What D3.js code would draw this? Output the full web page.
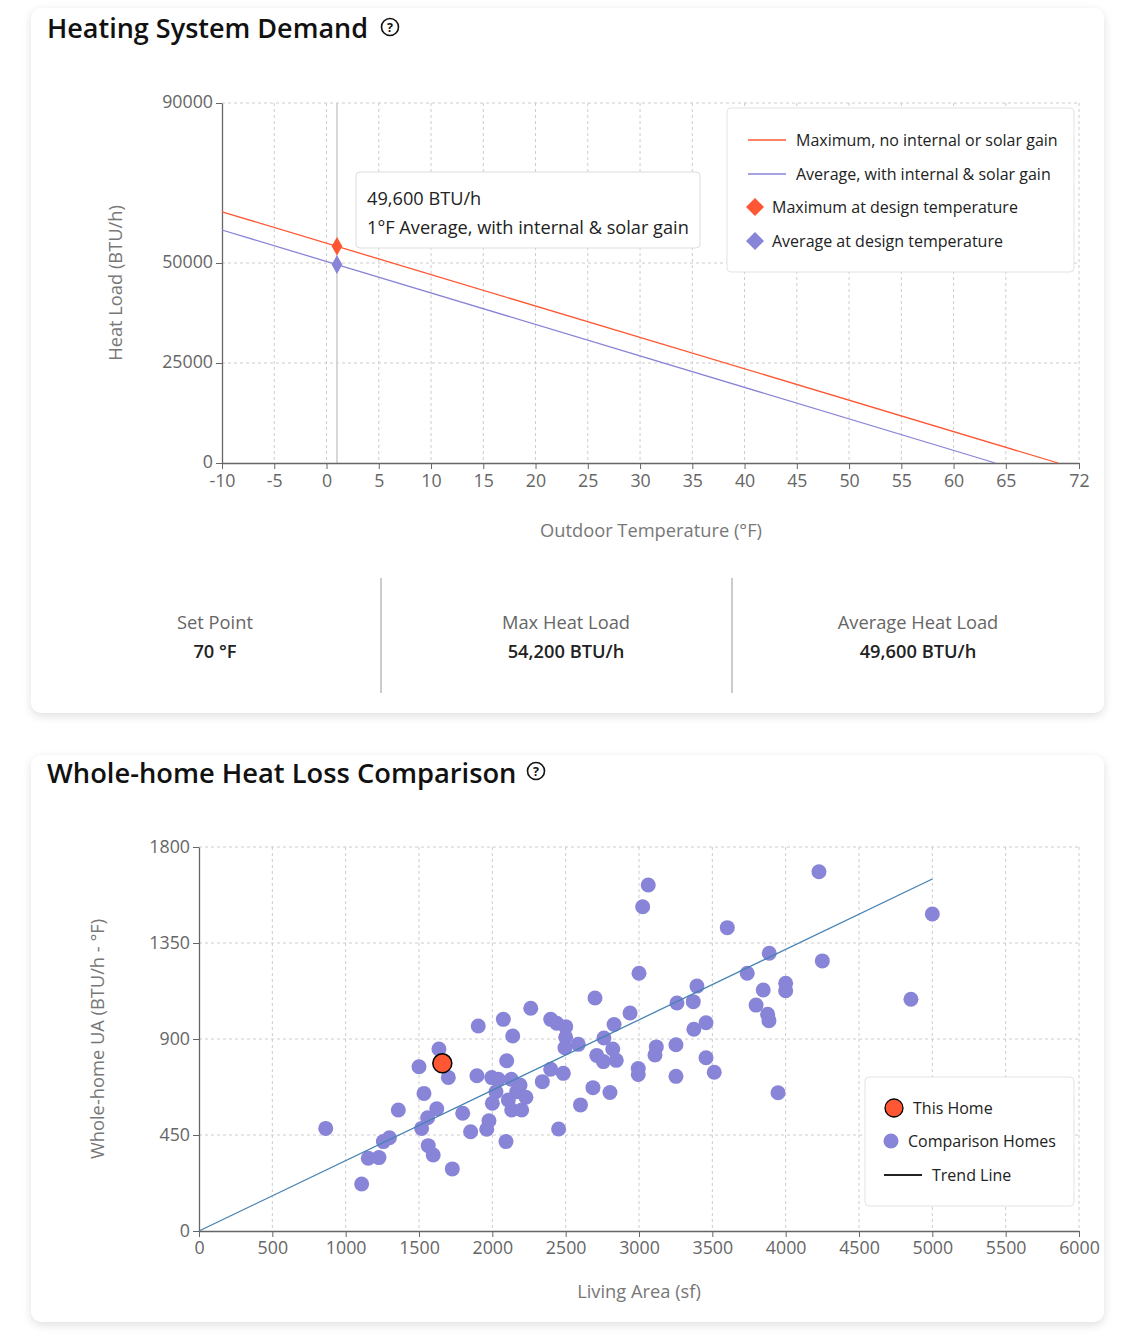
<!DOCTYPE html>
<html><head><meta charset="utf-8">
<script src="https://cdn.jsdelivr.net/npm/d3@7"></script>
<style>
body{margin:0;background:#fff;font-family:'Open Sans',sans-serif;width:1129px;height:1338px;overflow:hidden;position:relative;}
.card{position:absolute;left:31px;width:1073px;background:#fff;border-radius:10px;box-shadow:0 3px 10px rgba(0,0,0,0.13);}
#c{position:absolute;left:0;top:0;}
</style></head><body>
<div class="card" style="top:8px;height:705px"></div>
<div class="card" style="top:755px;height:567px"></div>
<svg id="c" width="1129" height="1338"></svg>
<script>
// ---------- data ----------
const tempTicks = [-10,-5,0,5,10,15,20,25,30,35,40,45,50,55,60,65,72];
const loadTicks = [0,25000,50000,90000];
const maxLineTemps = [-10, 70];
const maxLineLoads = [62800, 0];
const avgLineTemps = [-10, 64];
const avgLineLoads = [58250, 0];
const designTemp = 1;
const maxDesignLoad = 54200;
const avgDesignLoad = 49600;
const statLabels = ["Set Point","Max Heat Load","Average Heat Load"];
const statValues = ["70 °F","54,200 BTU/h","49,600 BTU/h"];
const topLegend = ["Maximum, no internal or solar gain","Average, with internal & solar gain","Maximum at design temperature","Average at design temperature"];

const areaTicks = [0,500,1000,1500,2000,2500,3000,3500,4000,4500,5000,5500,6000];
const uaTicks = [0,450,900,1350,1800];
const homeAreas = [864,1109,1154,1227,1257,1298,1359,1518,1500,1534,1559,1621,1563,1597,1636,1700,1727,1798,1852,1895,1904,1962,1977,2000,1996,2041,2025,2075,2098,2093,2109,2129,2139,2132,2166,2200,2189,2229,2262,2341,2398,2439,2500,2484,2398,2500,2495,2586,2452,2601,2686,2802,2700,2712,2757,2761,2830,2821,2845,2939,3000,3025,3063,2995,2995,3118,3109,3252,3252,3259,3370,3395,3374,3457,3457,3513,3602,3738,3888,3847,3798,3877,3886,4000,4000,3948,4227,4250,4854,5000];
const homeUA =    [481,220,341,344,419,437,567,481,770,645,531,573,400,356,853,720,291,552,465,728,961,477,517,599,719,711,653,992,798,419,614,711,914,567,653,567,684,627,1044,700,992,974,958,739,758,908,859,875,478,591,672,649,1092,823,794,905,968,853,800,1022,1208,1520,1622,762,734,863,825,873,725,1069,1075,1148,946,976,812,744,1422,1208,1302,1130,1059,1016,986,1161,1126,648,1684,1266,1086,1486];
const thisHomeArea = 1659;
const thisHomeUA = 786;
const trendAreas = [0, 5000];
const trendUA = [0, 1650];
const bottomLegend = ["This Home","Comparison Homes","Trend Line"];

// ---------- colors ----------
const ORANGE = "#ff5733", PURPLE = "#8884d8", TREND = "#4682b4", AXIS = "#666", GRID = "#ccc";
const TICK_FS = 17.8, LABEL_FS = 18.3;

const svg = d3.select("#c");

function helpIcon(cx, cy){
  const g = svg.append("g");
  g.append("circle").attr("cx",cx).attr("cy",cy).attr("r",8.5).attr("fill","none").attr("stroke","#111").attr("stroke-width",1.6);
  g.append("text").attr("x",cx).attr("y",cy+4.5).attr("text-anchor","middle").attr("font-size",12.5).attr("font-weight",700).attr("fill","#111").text("?");
}
function styleAxis(g, fs){
  g.select(".domain").attr("stroke",AXIS).attr("stroke-width",1.3);
  g.selectAll(".tick line").attr("stroke",AXIS);
  g.selectAll(".tick text").attr("fill",AXIS).attr("font-size",fs).attr("font-family","'Open Sans',sans-serif");
}

// ---------- titles ----------
svg.append("text").attr("x",47).attr("y",38).attr("font-size",27).attr("font-weight",600).attr("fill","#111").text("Heating System Demand");
helpIcon(390,27);
svg.append("text").attr("x",47).attr("y",783).attr("font-size",27.3).attr("font-weight",600).attr("fill","#111").text("Whole-home Heat Loss Comparison");
helpIcon(536,771);

// ---------- top chart ----------
const x1 = d3.scaleLinear().domain([-10,72]).range([222,1079]);
const y1 = d3.scaleLinear().domain([0,90000]).range([463,103]);
const g1 = svg.append("g");
g1.selectAll(".vg").data(tempTicks.slice(1)).join("line")
  .attr("x1",d=>x1(d)).attr("x2",d=>x1(d)).attr("y1",y1(90000)).attr("y2",y1(0))
  .attr("stroke",GRID).attr("stroke-dasharray","3 3");
g1.selectAll(".hg").data(loadTicks.slice(1)).join("line")
  .attr("x1",x1(-10)).attr("x2",x1(72)).attr("y1",d=>y1(d)).attr("y2",d=>y1(d))
  .attr("stroke",GRID).attr("stroke-dasharray","3 3");
// cursor
g1.append("line").attr("x1",x1(designTemp)).attr("x2",x1(designTemp)).attr("y1",y1(90000)).attr("y2",y1(0)).attr("stroke","#ccc").attr("stroke-width",1.5);

const ax1 = g1.append("g").attr("transform",`translate(0,${y1(0)})`)
  .call(d3.axisBottom(x1).tickValues(tempTicks).tickSize(6).tickSizeOuter(0).tickPadding(5).tickFormat(d=>String(d)));
styleAxis(ax1,TICK_FS);
const ay1 = g1.append("g").attr("transform",`translate(${x1(-10)},0)`)
  .call(d3.axisLeft(y1).tickValues(loadTicks).tickSize(6).tickSizeOuter(0).tickPadding(3).tickFormat(d=>String(d)));
styleAxis(ay1,TICK_FS);
ay1.selectAll(".tick text").attr("dy","0.25em");

const line1 = d3.line().x(d=>x1(d[0])).y(d=>y1(d[1]));
g1.append("path").attr("d",line1(d3.zip(maxLineTemps,maxLineLoads))).attr("fill","none").attr("stroke",ORANGE).attr("stroke-width",1.3);
g1.append("path").attr("d",line1(d3.zip(avgLineTemps,avgLineLoads))).attr("fill","none").attr("stroke",PURPLE).attr("stroke-width",1.3);
const dia = d3.symbol(d3.symbolDiamond).size(100);
g1.append("path").attr("d",dia()).attr("transform",`translate(${x1(designTemp)},${y1(maxDesignLoad)})`).attr("fill",ORANGE);
g1.append("path").attr("d",dia()).attr("transform",`translate(${x1(designTemp)},${y1(avgDesignLoad)})`).attr("fill",PURPLE);

// axis labels
svg.append("text").attr("transform","translate(122,283) rotate(-90)").attr("text-anchor","middle").attr("font-size",LABEL_FS).attr("fill","#777").text("Heat Load (BTU/h)");
svg.append("text").attr("x",651).attr("y",537).attr("text-anchor","middle").attr("font-size",LABEL_FS).attr("fill","#777").text("Outdoor Temperature (°F)");

// tooltip
svg.append("rect").attr("x",356).attr("y",172).attr("width",344).attr("height",76).attr("rx",4).attr("fill","#fff").attr("stroke","#ddd");
svg.append("text").attr("x",367).attr("y",205).attr("font-size",18.2).attr("fill","#222").text(d3.format(",")(avgDesignLoad)+" BTU/h");
svg.append("text").attr("x",367).attr("y",234).attr("font-size",18.2).attr("fill","#222").text(designTemp+"°F Average, with internal & solar gain");

// top legend
svg.append("rect").attr("x",727).attr("y",108).attr("width",347).attr("height",164).attr("rx",4).attr("fill","#fff").attr("stroke","#e3e3e3");
const legY = [140,174,207,241];
[ORANGE,PURPLE].forEach((c,i)=>{
  svg.append("line").attr("x1",748).attr("x2",786).attr("y1",legY[i]).attr("y2",legY[i]).attr("stroke",c).attr("stroke-width",1.5);
  svg.append("text").attr("x",796).attr("y",legY[i]+6).attr("font-size",16).attr("fill","#222").text(topLegend[i]);
});
[ORANGE,PURPLE].forEach((c,i)=>{
  const y = legY[i+2];
  svg.append("path").attr("d",`M755,${y-9}L764,${y}L755,${y+9}L746,${y}Z`).attr("fill",c);
  svg.append("text").attr("x",772).attr("y",y+6).attr("font-size",16).attr("fill","#222").text(topLegend[i+2]);
});

// stats
const statX = [215,566,918];
statLabels.forEach((t,i)=>{
  svg.append("text").attr("x",statX[i]).attr("y",629).attr("text-anchor","middle").attr("font-size",18.3).attr("fill","#666").text(t);
  svg.append("text").attr("x",statX[i]).attr("y",658).attr("text-anchor","middle").attr("font-size",18.3).attr("font-weight",600).attr("fill","#222").text(statValues[i]);
});
[381,732].forEach(x=>svg.append("line").attr("x1",x).attr("x2",x).attr("y1",578).attr("y2",693).attr("stroke","#ccc").attr("stroke-width",2));

// ---------- bottom chart ----------
const x2 = d3.scaleLinear().domain([0,6000]).range([199,1079]);
const y2 = d3.scaleLinear().domain([0,1800]).range([1231,847]);
const g2 = svg.append("g");
g2.selectAll(".vg").data(areaTicks.slice(1)).join("line")
  .attr("x1",d=>x2(d)).attr("x2",d=>x2(d)).attr("y1",y2(1800)).attr("y2",y2(0))
  .attr("stroke",GRID).attr("stroke-dasharray","3 3");
g2.selectAll(".hg").data(uaTicks.slice(1)).join("line")
  .attr("x1",x2(0)).attr("x2",x2(6000)).attr("y1",d=>y2(d)).attr("y2",d=>y2(d))
  .attr("stroke",GRID).attr("stroke-dasharray","3 3");
const ax2 = g2.append("g").attr("transform",`translate(0,${y2(0)})`)
  .call(d3.axisBottom(x2).tickValues(areaTicks).tickSize(6).tickSizeOuter(0).tickPadding(4).tickFormat(d=>String(d)));
styleAxis(ax2,TICK_FS);
const ay2 = g2.append("g").attr("transform",`translate(${x2(0)},0)`)
  .call(d3.axisLeft(y2).tickValues(uaTicks).tickSize(6).tickSizeOuter(0).tickPadding(3).tickFormat(d=>String(d)));
styleAxis(ay2,TICK_FS);

g2.selectAll(".dot").data(d3.zip(homeAreas,homeUA)).join("circle")
  .attr("cx",d=>x2(d[0])).attr("cy",d=>y2(d[1])).attr("r",7.5).attr("fill",PURPLE);
const line2 = d3.line().x(d=>x2(d[0])).y(d=>y2(d[1]));
g2.append("path").attr("d",line2(d3.zip(trendAreas,trendUA))).attr("fill","none").attr("stroke",TREND).attr("stroke-width",1.3);
g2.append("circle").attr("cx",x2(thisHomeArea)).attr("cy",y2(thisHomeUA)).attr("r",9.5).attr("fill",ORANGE).attr("stroke","#000").attr("stroke-width",1.5);

svg.append("text").attr("transform","translate(104,1039) rotate(-90)").attr("text-anchor","middle").attr("font-size",LABEL_FS).attr("fill","#777").text("Whole-home UA (BTU/h - °F)");
svg.append("text").attr("x",639).attr("y",1298).attr("text-anchor","middle").attr("font-size",LABEL_FS).attr("fill","#777").text("Living Area (sf)");

// bottom legend
svg.append("rect").attr("x",865).attr("y",1077).attr("width",209).attr("height",129).attr("rx",4).attr("fill","#fff").attr("stroke","#e3e3e3");
svg.append("circle").attr("cx",894).attr("cy",1108).attr("r",9).attr("fill",ORANGE).attr("stroke","#000").attr("stroke-width",1.3);
svg.append("text").attr("x",913).attr("y",1114).attr("font-size",16).attr("fill","#222").text(bottomLegend[0]);
svg.append("circle").attr("cx",891).attr("cy",1141).attr("r",7.5).attr("fill",PURPLE);
svg.append("text").attr("x",908).attr("y",1147).attr("font-size",16).attr("fill","#222").text(bottomLegend[1]);
svg.append("line").attr("x1",884).attr("x2",922).attr("y1",1175).attr("y2",1175).attr("stroke","#222").attr("stroke-width",2);
svg.append("text").attr("x",932).attr("y",1181).attr("font-size",16).attr("fill","#222").text(bottomLegend[2]);
</script>
</body></html>
